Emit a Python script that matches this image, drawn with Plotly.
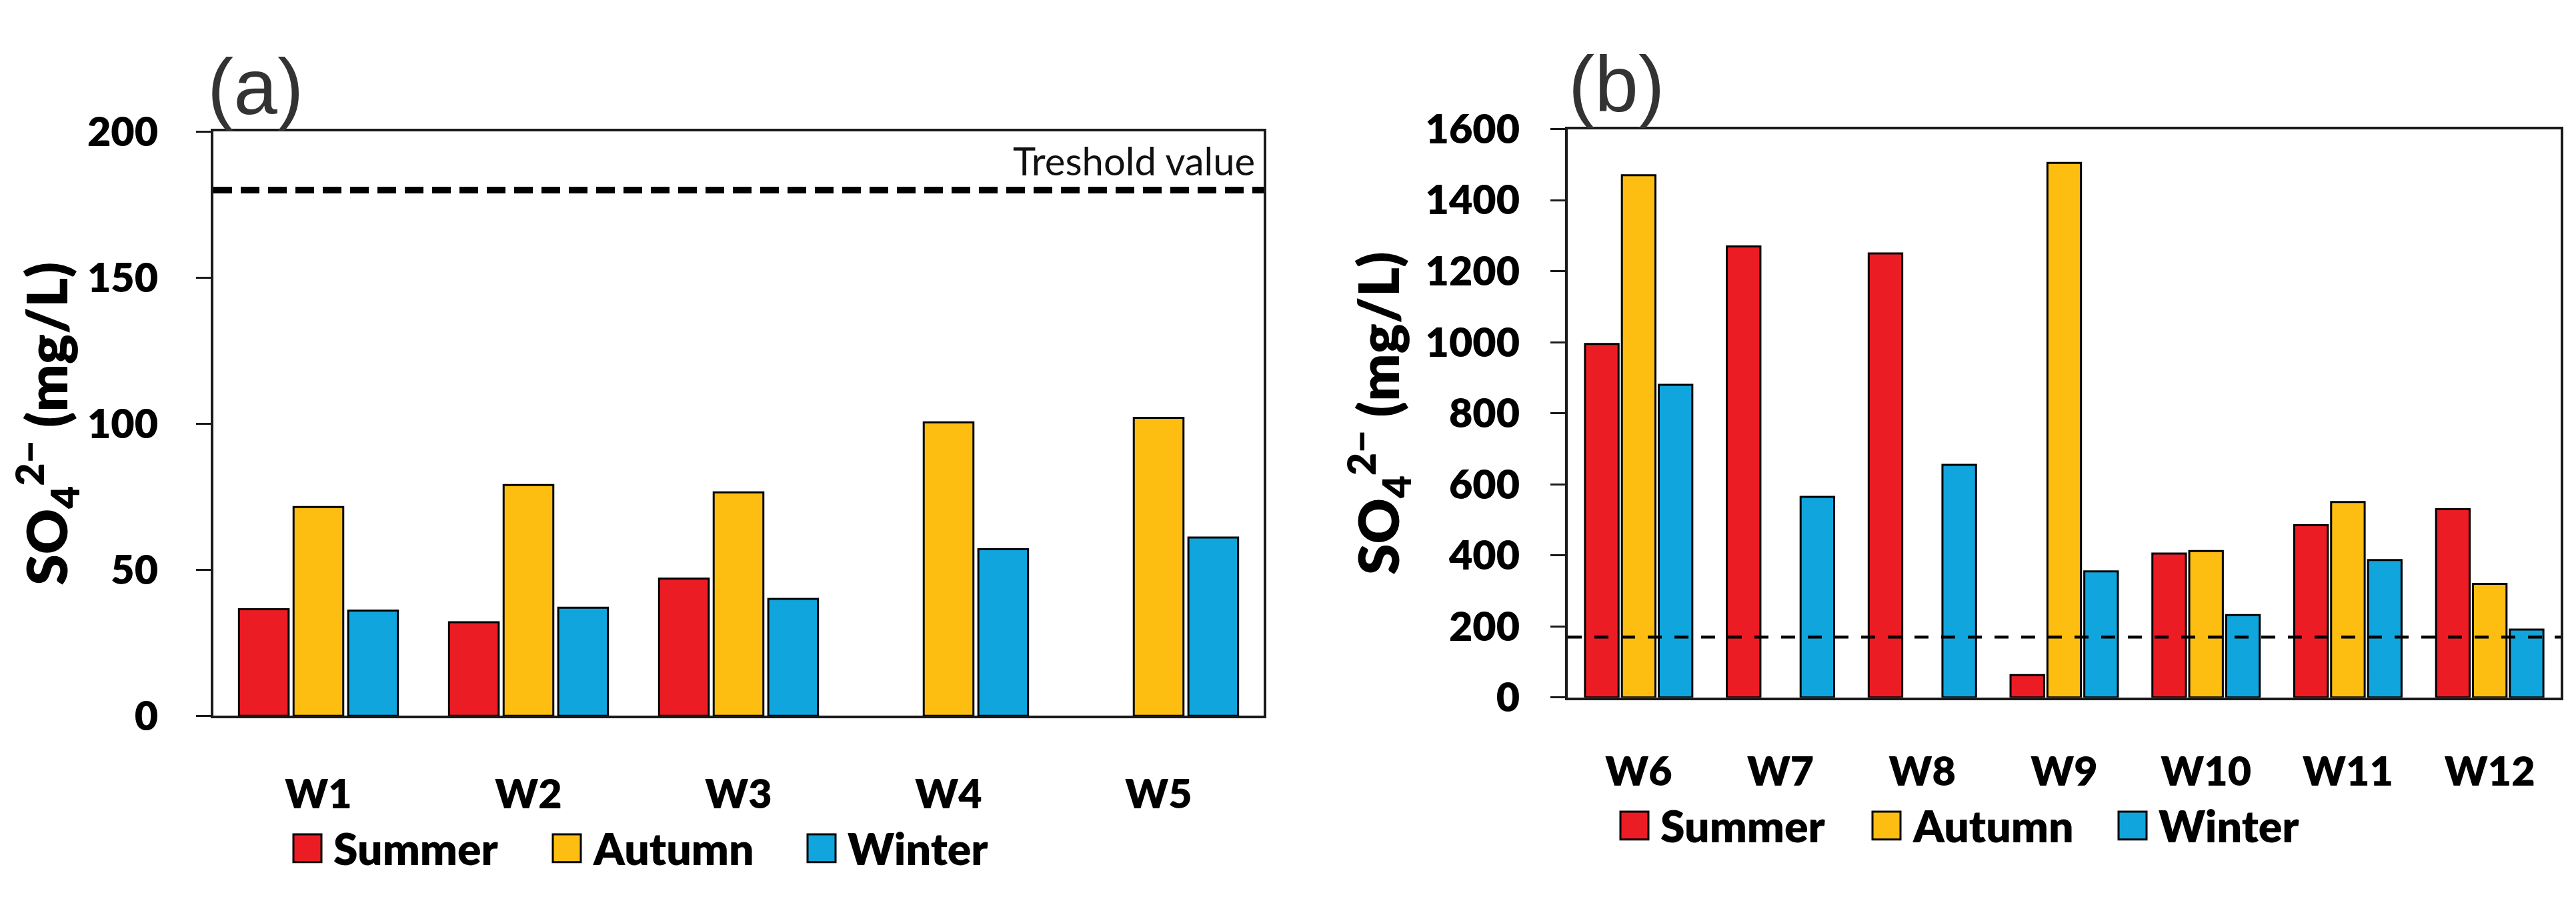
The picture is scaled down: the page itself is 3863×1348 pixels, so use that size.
import plotly.graph_objects as go

# --- data ---
wells_a = ["W1", "W2", "W3", "W4", "W5"]
summer_a = [36.5, 32, 47, None, None]
autumn_a = [71.5, 79, 76.5, 100.5, 102]
winter_a = [36, 37, 40, 57, 61]
threshold_a = 180

wells_b = ["W6", "W7", "W8", "W9", "W10", "W11", "W12"]
summer_b = [995, 1270, 1250, 63, 405, 485, 530]
autumn_b = [1470, None, None, 1505, 412, 550, 320]
winter_b = [880, 565, 655, 355, 232, 387, 191]
threshold_b = 170

seasons = ["Summer", "Autumn", "Winter"]
colors = ["#ec1c24", "#fdbe11", "#11a5de"]

# --- page geometry (pixels) ---
W, H = 3863, 1348


def px_x(x):
    return x / W


def px_y(y):
    return 1 - y / H


FONT = "Lato"
tick_font = dict(family=FONT, size=61, color="black", weight=800)
title_font = dict(family=FONT, size=84, color="black", weight=800)

fig = go.Figure()

for name, vals, col in zip(seasons, [summer_a, autumn_a, winter_a], colors):
    fig.add_trace(go.Bar(x=wells_a, y=vals, name=name, marker_color=col,
                         marker_line=dict(color="black", width=3),
                         xaxis="x", yaxis="y", showlegend=False))

for name, vals, col in zip(seasons, [summer_b, autumn_b, winter_b], colors):
    fig.add_trace(go.Bar(x=wells_b, y=vals, name=name, marker_color=col,
                         marker_line=dict(color="black", width=3),
                         xaxis="x2", yaxis="y2", showlegend=False))

axis_common = dict(showline=True, linecolor="#1a1a1a", linewidth=3.5, mirror=True,
                   showgrid=False, zeroline=False, tickfont=tick_font)

fig.update_layout(
    width=W, height=H,
    margin=dict(l=0, r=0, t=0, b=0),
    paper_bgcolor="white", plot_bgcolor="white",
    barmode="group", bargap=0.22, bargroupgap=0.09,
    xaxis=dict(domain=[px_x(312), px_x(1887)], anchor="y", ticks="",
               ticklabelstandoff=62, **axis_common),
    yaxis=dict(domain=[px_y(1085), px_y(159)], anchor="x", range=[0, 200], dtick=50,
               ticks="outside", ticklen=22, tickwidth=3, tickcolor="#1a1a1a",
               ticklabelstandoff=45,
               title=dict(text="SO<sub>4</sub><sup>2−</sup> (mg/L)", font=title_font, standoff=12),
               **axis_common),
    xaxis2=dict(domain=[px_x(2343), px_x(3832)], anchor="y2", ticks="",
                ticklabelstandoff=55, **axis_common),
    yaxis2=dict(domain=[px_y(1056), px_y(155)], anchor="x2", range=[0, 1600], dtick=200,
                ticks="outside", ticklen=22, tickwidth=3, tickcolor="#1a1a1a",
                ticklabelstandoff=34,
                title=dict(text="SO<sub>4</sub><sup>2−</sup> (mg/L)", font=title_font, standoff=12),
                **axis_common),
)

# threshold lines
fig.add_shape(type="line", xref="x domain", yref="y", x0=0, x1=1,
              y0=threshold_a, y1=threshold_a, layer="above",
              line=dict(color="black", width=10, dash="28px,13px"))
fig.add_shape(type="line", xref="x2 domain", yref="y2", x0=0, x1=1,
              y0=threshold_b, y1=threshold_b, layer="above",
              line=dict(color="black", width=4.5, dash="21px,19px"))

annotations = [
    dict(text="Treshold value", xref="x domain", yref="y", x=0.993, y=threshold_a,
         xanchor="right", yanchor="bottom", yshift=8, showarrow=False,
         font=dict(family=FONT, size=58, color="#111")),
    dict(text="(a)", xref="paper", yref="paper", x=px_x(375), y=px_y(88),
         xanchor="center", yanchor="middle", showarrow=False,
         font=dict(family="Liberation Sans", size=118, color="#333")),
    dict(text="(b)", xref="paper", yref="paper", x=px_x(2416), y=px_y(83),
         xanchor="center", yanchor="middle", showarrow=False,
         font=dict(family="Liberation Sans", size=118, color="#333")),
]

# hand-drawn legends (large square swatches)
legend_rows = [([432, 821, 1203], 1273), ([2422, 2800, 3169], 1237)]
for lefts, top in legend_rows:
    for left, name, col in zip(lefts, seasons, colors):
        fig.add_shape(type="rect", xref="paper", yref="paper",
                      x0=px_x(left), x1=px_x(left + 42), y0=px_y(top + 44), y1=px_y(top),
                      fillcolor=col, line=dict(color="black", width=3))
        annotations.append(dict(text=name, xref="paper", yref="paper",
                                x=px_x(left + 58), y=px_y(top + 22),
                                xanchor="left", yanchor="middle", showarrow=False,
                                font=dict(family=FONT, size=66, color="black", weight=800)))

fig.update_layout(annotations=annotations)

fig.write_html("out.html")
